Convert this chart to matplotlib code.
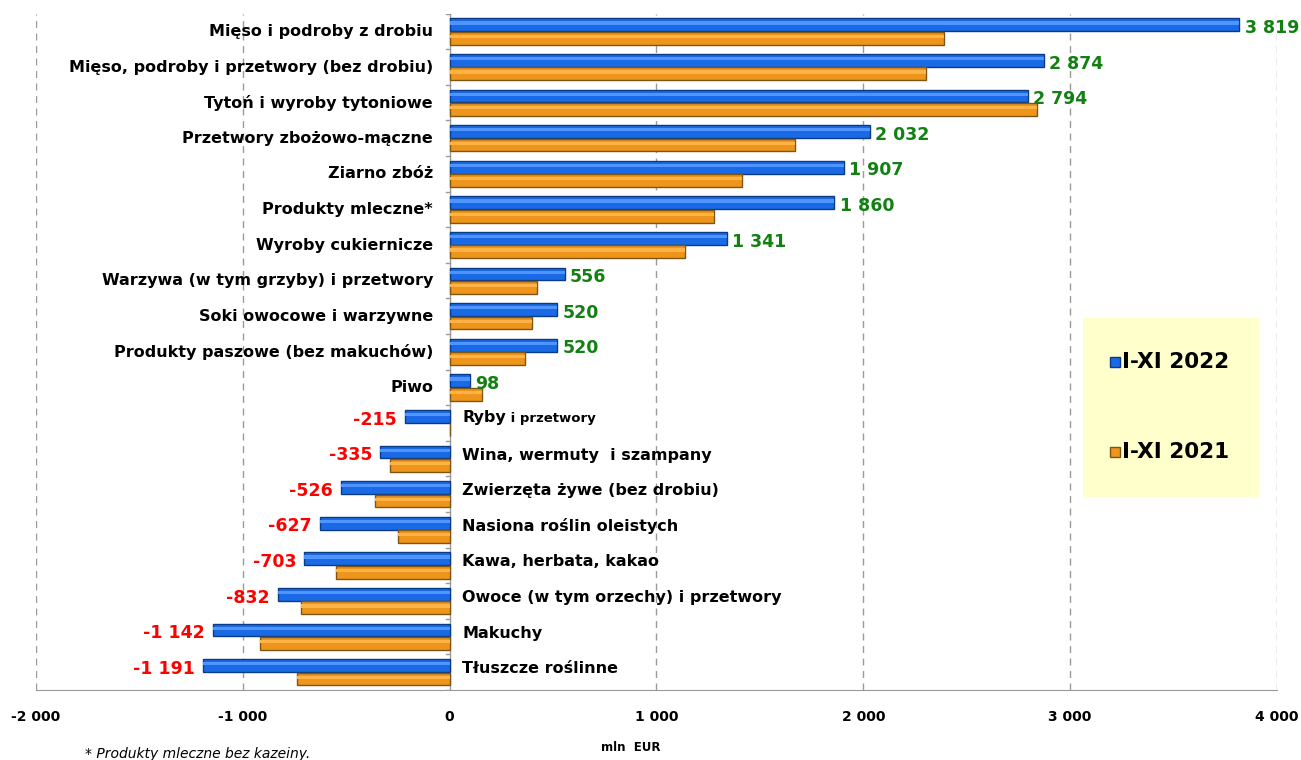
import matplotlib.pyplot as plt
from matplotlib.patches import Rectangle
import numpy as np

categories = ['Mięso i podroby z drobiu', 'Mięso, podroby i przetwory (bez drobiu)',
              'Tytoń i wyroby tytoniowe', 'Przetwory zbożowo-mączne', 'Ziarno zbóż',
              'Produkty mleczne*', 'Wyroby cukiernicze', 'Warzywa (w tym grzyby) i przetwory',
              'Soki owocowe i warzywne', 'Produkty paszowe (bez makuchów)', 'Piwo',
              'Ryby', 'Wina, wermuty  i szampany', 'Zwierzęta żywe (bez drobiu)',
              'Nasiona roślin oleistych', 'Kawa, herbata, kakao',
              'Owoce (w tym orzechy) i przetwory', 'Makuchy', 'Tłuszcze roślinne']
val_2022 = [3819, 2874, 2794, 2032, 1907, 1860, 1341, 556, 520, 520, 98,
            -215, -335, -526, -627, -703, -832, -1142, -1191]
val_2021 = [2391, 2304, 2840, 1671, 1415, 1280, 1140, 420, 396, 362, 155,
            0, -290, -362, -251, -551, -720, -918, -739]
labels_2022 = ['3 819', '2 874', '2 794', '2 032', '1 907', '1 860', '1 341', '556', '520',
               '520', '98', '-215', '-335', '-526', '-627', '-703', '-832', '-1 142', '-1 191']
series_names = ['I-XI 2022', 'I-XI 2021']
xticks = [-2000, -1000, 0, 1000, 2000, 3000, 4000]
xtick_labels = ['-2 000', '-1 000', '0', '1 000', '2 000', '3 000', '4 000']

blue = '#1a6ae6'
blue_edge = '#0b3a86'
orange = '#ee951c'
orange_edge = '#7d5514'

fig = plt.figure(figsize=(13.01, 7.6), dpi=100)
ax = fig.add_axes([0.0277, 0.092, 0.9538, 0.89])

y = np.arange(len(categories))
h = 0.36
ax.barh(y - 0.19, val_2022, height=h, color=blue, edgecolor=blue_edge, linewidth=1.0, zorder=3)
ax.barh(y + 0.19, val_2021, height=h, color=orange, edgecolor=orange_edge, linewidth=1.0, zorder=3)
# light highlight stripe to fake the bevel
ax.barh(y - 0.24, val_2022, height=h * 0.25, color='#4f94ff', linewidth=0, zorder=4)
ax.barh(y + 0.14, val_2021, height=h * 0.25, color='#ffb347', linewidth=0, zorder=4)

ax.set_xlim(-2000, 4000)
ax.set_ylim(len(categories) - 0.5, -0.5)

for i, (v, lab) in enumerate(zip(val_2022, labels_2022)):
    if v >= 0:
        ax.text(v + 25, i - 0.1, lab, ha='left', va='center', color='#128012',
                fontsize=12.5, fontweight='bold', zorder=5)
        ax.text(-80, i, categories[i], ha='right', va='center', fontsize=11.5,
                fontweight='bold', color='black')
    else:
        ax.text(v - 40, i - 0.1, lab, ha='right', va='center', color='#ff0000',
                fontsize=12.5, fontweight='bold', zorder=5)
        if categories[i] == 'Ryby':
            t = ax.text(60, i - 0.15, 'Ryby', ha='left', va='center', fontsize=11.5,
                        fontweight='bold', color='black')
            ax.annotate(' i przetwory', xycoords=t, xy=(1, 0), va='bottom', fontsize=9.5,
                        fontweight='bold', color='black')
        else:
            ax.text(60, i - 0.1, categories[i], ha='left', va='center', fontsize=11.5,
                    fontweight='bold', color='black')

ax.set_xticks(xticks)
ax.set_xticklabels(xtick_labels, fontsize=10, fontweight='bold')
ax.tick_params(axis='x', length=0, pad=14)
ax.set_yticks([])
for x in [-2000, -1000, 1000, 2000, 3000, 4000]:
    ax.axvline(x, color='#9a9a9a', linestyle=(0, (5, 4)), linewidth=1, zorder=1)
ax.axvline(0, color='#9a9a9a', linewidth=1, zorder=2)
# small ticks on the zero line between categories
for yb in np.arange(-0.5, len(categories), 1):
    ax.plot([-18, 0], [yb, yb], color='#9a9a9a', linewidth=1, zorder=2)

for s in ['top', 'right', 'left']:
    ax.spines[s].set_visible(False)
ax.spines['bottom'].set_color('#9a9a9a')

# legend box drawn by hand (pale yellow panel)
fig.patches.append(Rectangle((1083 / 1301, 1 - 497 / 760), 176 / 1301, 179 / 760,
                             transform=fig.transFigure, facecolor='#ffffcc',
                             edgecolor='none', zorder=5))
for name, fc, ec, ypx in [(series_names[0], blue, blue_edge, 362),
                          (series_names[1], orange, orange_edge, 452)]:
    fig.patches.append(Rectangle((1110 / 1301, 1 - (ypx + 5) / 760), 10 / 1301, 10 / 760,
                                 transform=fig.transFigure, facecolor=fc, edgecolor=ec,
                                 linewidth=1, zorder=6))
    fig.text(1122 / 1301, 1 - ypx / 760, name, fontsize=15.5, fontweight='bold',
             va='center', ha='left', zorder=6)

fig.text(0.485, 0.012, 'mln  EUR', fontsize=8.5, fontweight='bold', ha='center')
fig.text(0.065, 0.003, '* Produkty mleczne bez kazeiny.', fontsize=10, style='italic')

fig.savefig('out.png', dpi=100)
